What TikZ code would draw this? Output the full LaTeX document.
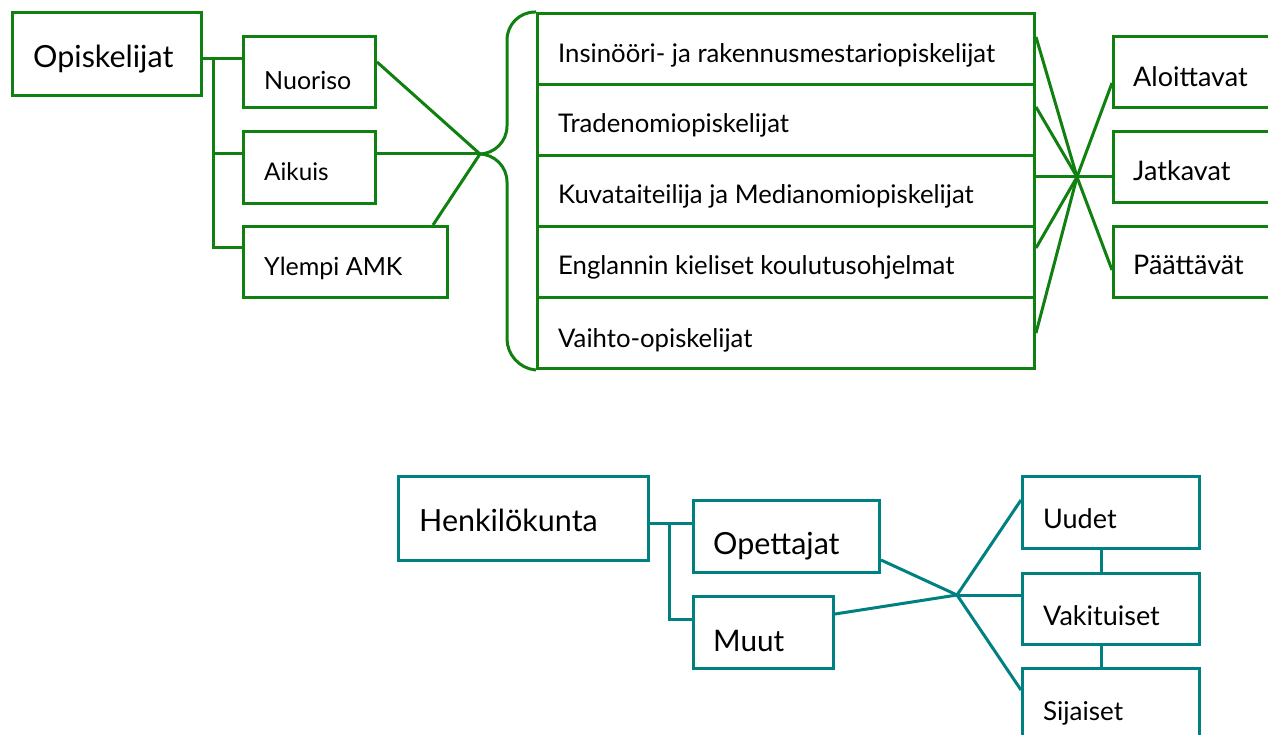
\documentclass[tikz,border=0pt]{standalone}
\usepackage{fontspec}
\setmainfont{Lato}
\usetikzlibrary{calc}
\definecolor{gr}{RGB}{16,128,16}
\definecolor{tl}{RGB}{0,128,128}
\begin{document}
\begin{tikzpicture}[x=1pt,y=-1pt,
  gbox/.style={draw=gr,line width=3pt,anchor=north west,inner sep=0pt},
  tbox/.style={draw=tl,line width=3pt,anchor=north west,inner sep=0pt},
  gline/.style={draw=gr,line width=3pt},
  tline/.style={draw=tl,line width=3pt},
  lbl/.style={anchor=base west,inner sep=0pt,text=black},
  big/.style={lbl,font=\fontsize{30.5}{32}\selectfont},
  mid/.style={lbl,font=\fontsize{30.5}{32}\selectfont},
  med/.style={lbl,font=\fontsize{27}{30}\selectfont},
  lvl/.style={lbl,font=\fontsize{25}{28}\selectfont},
  row/.style={lbl,font=\fontsize{25.7}{28}\selectfont},
  rgt/.style={lbl,font=\fontsize{27}{30}\selectfont}]
\useasboundingbox (0,0) rectangle (1268,735);
\clip (0,0) rectangle (1268,735);
\fill[white] (0,0) rectangle (1268,735);
% ---------- top part ----------
\node[gbox,minimum width=189pt,minimum height=83pt] (opis) at (11,11) {};
\node[big] (topis) at (33,68) {Opiskelijat};
\node[gbox,minimum width=132pt,minimum height=71pt] (nuor) at (242,35) {};
\node[lvl] (tnuor) at (264,90) {Nuoriso};
\node[gbox,minimum width=132pt,minimum height=72pt] (aik) at (242,130) {};
\node[lvl,font=\fontsize{24.3}{28}\selectfont] (taik) at (264,181) {Aikuis};
\node[gbox,minimum width=204pt,minimum height=71pt] (ylem) at (242,225) {};
\node[lvl] (tylem) at (264,276) {Ylempi AMK};
% stacked rows
\node[gbox,minimum width=497pt,minimum height=71pt] (r1) at (536,12) {};
\node[gbox,minimum width=497pt,minimum height=71pt] (r2) at (536,83) {};
\node[gbox,minimum width=497pt,minimum height=71pt] (r3) at (536,154) {};
\node[gbox,minimum width=497pt,minimum height=71pt] (r4) at (536,225) {};
\node[gbox,minimum width=497pt,minimum height=71pt] (r5) at (536,296) {};
\node[row] (t1) at (558,63) {Insinööri- ja rakennusmestariopiskelijat};
\node[row] (t2) at (558,133) {Tradenomiopiskelijat};
\node[row] (t3) at (558,204) {Kuvataiteilija ja Medianomiopiskelijat};
\node[row] (t4) at (558,275) {Englannin kieliset koulutusohjelmat};
\node[row] (t5) at (558,347) {Vaihto-opiskelijat};
% right boxes
\node[gbox,minimum width=190pt,minimum height=71pt] (alo) at (1112,35) {};
\node[rgt] (talo) at (1133,87) {Aloittavat};
\node[gbox,minimum width=190pt,minimum height=71pt] (jat) at (1112,130) {};
\node[rgt] (tjat) at (1133,181) {Jatkavat};
\node[gbox,minimum width=190pt,minimum height=71pt] (paa) at (1112,225) {};
\node[rgt] (tpaa) at (1133,275) {Päättävät};
% connectors
\coordinate (tip) at (480,154);
\coordinate (xr) at (1077,177);
\coordinate (v1) at (213,59);
\draw[gline] (opis.east |- v1) -- (nuor.west |- v1);
\draw[gline] (v1) |- (ylem.west |- 0,248);
\draw[gline] (v1 |- 0,154) -- (aik.west |- 0,154);
\draw[gline] ($(nuor.north east)+(0,27)$) -- (tip);
\draw[gline] (aik.east |- tip) -- (tip);
\draw[gline] ($(ylem.north west)+(191,0)$) -- (tip);
\draw[gline,rounded corners=28pt] (r1.north west) -- (507,12) -- (507,154) -- (tip);
\draw[gline,rounded corners=28pt] (tip) -- (507,154) -- (507,367) -- (r5.south west);
\draw[gline] ($(r1.north east)+(0,25)$) -- (xr);
\draw[gline] ($(r2.north east)+(0,24)$) -- (xr);
\draw[gline] (r3.east |- xr) -- (xr);
\draw[gline] ($(r4.north east)+(0,23)$) -- (xr);
\draw[gline] ($(r5.north east)+(0,37)$) -- (xr);
\draw[gline] (xr) -- ($(alo.north west)+(0,48)$);
\draw[gline] (xr) -- (jat.west |- xr);
\draw[gline] (xr) -- ($(paa.north west)+(0,45)$);
% ---------- bottom part ----------
\node[tbox,minimum width=250pt,minimum height=84pt] (henk) at (397,475) {};
\node[big] (thenk) at (419,531) {Henkilökunta};
\node[tbox,minimum width=186pt,minimum height=72pt] (opet) at (692,499) {};
\node[mid] (topet) at (713,554) {Opettajat};
\node[tbox,minimum width=140pt,minimum height=72pt] (muut) at (692,595) {};
\node[mid,font=\fontsize{29.7}{32}\selectfont] (tmuut) at (713,651) {Muut};
\node[tbox,minimum width=177pt,minimum height=72pt] (uud) at (1021,475) {};
\node[med] (tuud) at (1043,528) {Uudet};
\node[tbox,minimum width=177pt,minimum height=71pt] (vak) at (1021,572) {};
\node[med] (tvak) at (1043,625) {Vakituiset};
\node[tbox,minimum width=177pt,minimum height=100pt] (sij) at (1021,667) {};
\node[med,font=\fontsize{26}{30}\selectfont] (tsij) at (1043,720) {Sijaiset};
\coordinate (xb) at (957,595);
\coordinate (v2) at (669,523);
\draw[tline] (henk.east |- v2) -- (opet.west |- v2);
\draw[tline] (v2) |- (muut.west |- 0,619);
\draw[tline] ($(opet.north east)+(0,61)$) -- (xb);
\draw[tline] ($(muut.north east)+(0,19)$) -- (xb);
\draw[tline] (xb) -- ($(uud.north west)+(0,25)$);
\draw[tline] (xb) -- (vak.west |- xb);
\draw[tline] (xb) -- ($(sij.north west)+(0,23)$);
\draw[tline] (uud.south -| 1101,0) -- (vak.north -| 1101,0);
\draw[tline] (vak.south -| 1101,0) -- (sij.north -| 1101,0);
\end{tikzpicture}
\end{document}
